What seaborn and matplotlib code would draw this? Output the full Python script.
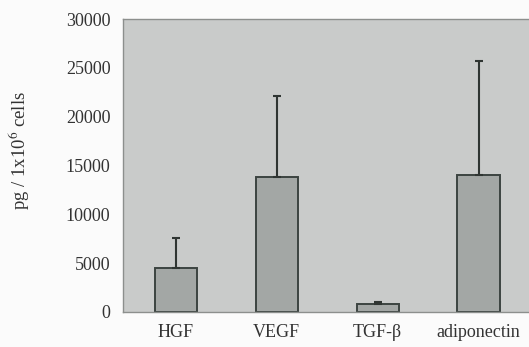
import matplotlib
matplotlib.use("Agg")
import matplotlib.pyplot as plt
import seaborn as sns
import pandas as pd

categories = ["HGF", "VEGF", "TGF-β", "adiponectin"]
means = [4500, 13800, 800, 14000]
errors = [3100, 8300, 250, 11700]
yticks = [0, 5000, 10000, 15000, 20000, 25000, 30000]

sns.set_style("white")
plt.rcParams["font.family"] = ["Liberation Serif", "DejaVu Serif"]
plt.rcParams["mathtext.fontset"] = "stix"

df = pd.DataFrame({"factor": categories, "value": means})

fig = plt.figure(figsize=(5.29, 3.47), dpi=100)
fig.patch.set_facecolor("#fbfbfb")
ax = fig.add_axes([0.2325, 0.1009, 0.7675, 0.8443])
ax.set_facecolor("#c9cbca")

sns.barplot(data=df, x="factor", y="value", ax=ax, color="#a3a7a5",
            width=0.42, edgecolor="#3c4441", linewidth=1.4, errorbar=None,
            saturation=1)
xs = list(range(len(categories)))
ax.errorbar(xs, means, yerr=[[0] * len(errors), errors], fmt="none",
            ecolor="#2f3532", elinewidth=1.5, capsize=3, capthick=1.5, zorder=1)

ax.set_xlim(-0.525, 3.5)
ax.set_ylim(0, 30000)
ax.set_yticks(yticks)
ax.set_yticklabels([str(t) for t in yticks])
ax.tick_params(axis="both", length=0, labelsize=13, colors="#333333")
ax.tick_params(axis="y", pad=9)
ax.tick_params(axis="x", pad=9)
ax.set_xlabel("")
ax.set_ylabel(r"pg / 1x10$^6$ cells", fontsize=13.5, color="#333333")
ax.yaxis.set_label_coords(-0.225, 0.55)

for s in ["left", "top", "bottom"]:
    ax.spines[s].set_visible(True)
    ax.spines[s].set_color("#8c8f8d")
    ax.spines[s].set_linewidth(1.0)
ax.spines["right"].set_visible(False)

fig.savefig("out.png", dpi=100, facecolor=fig.get_facecolor())
